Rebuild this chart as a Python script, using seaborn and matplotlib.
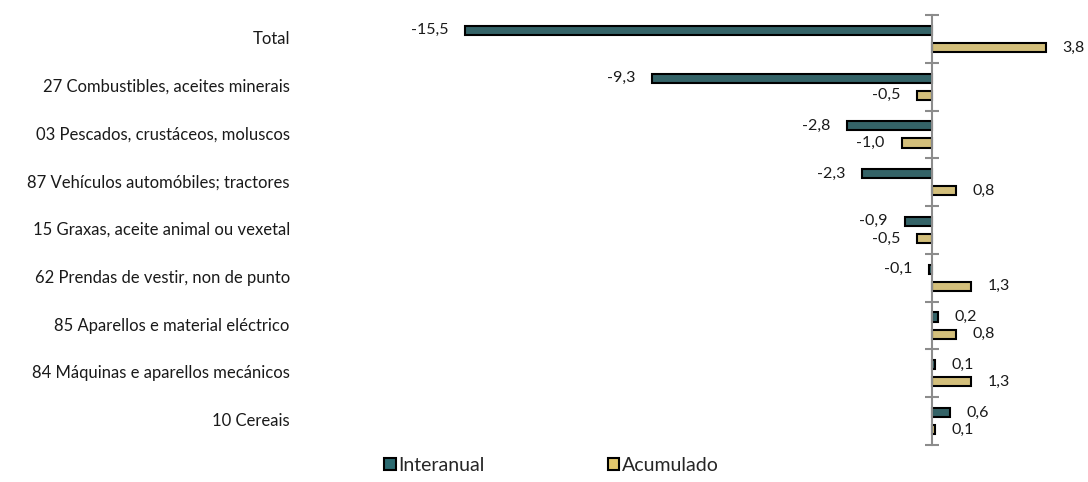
import matplotlib

matplotlib.use("Agg")
import matplotlib.pyplot as plt
import pandas as pd
import seaborn as sns
from matplotlib.patches import Patch

categorias = [
    "Total",
    "27 Combustibles, aceites minerais",
    "03 Pescados, crustáceos, moluscos",
    "87 Vehículos automóbiles; tractores",
    "15 Graxas, aceite animal ou vexetal",
    "62 Prendas de vestir, non de punto",
    "85 Aparellos e material eléctrico",
    "84 Máquinas e aparellos mecánicos",
    "10 Cereais",
]
interanual = [-15.5, -9.3, -2.8, -2.3, -0.9, -0.1, 0.2, 0.1, 0.6]
acumulado = [3.8, -0.5, -1.0, 0.8, -0.5, 1.3, 0.8, 1.3, 0.1]
series = ["Interanual", "Acumulado"]

teal = "#2b6a70"
gold = "#e2c76c"

df = pd.concat(
    [
        pd.DataFrame({"categoria": categorias, "valor": interanual, "serie": series[0]}),
        pd.DataFrame({"categoria": categorias, "valor": acumulado, "serie": series[1]}),
    ],
    ignore_index=True,
)

sns.set_style("white")
plt.rcParams["font.family"] = ["Lato", "DejaVu Sans"]

fig = plt.figure(figsize=(10.88, 4.82), dpi=100)
ax = fig.add_axes([300 / 1088, 1 - 445 / 482, 782 / 1088, 430 / 482])

sns.barplot(
    data=df, x="valor", y="categoria", hue="serie", orient="h",
    palette=[teal, gold], width=0.72, gap=0.47,
    edgecolor="black", linewidth=1.5, legend=False, ax=ax,
)

ax.set_xlim(-21, 5)
ax.set_ylim(len(categorias) - 0.5, -0.5)
for s in ["top", "right", "bottom"]:
    ax.spines[s].set_visible(False)
ax.spines["left"].set_position(("data", 0))
ax.spines["left"].set_color("#8c8c8c")
ax.spines["left"].set_linewidth(1.5)
ax.set_xticks([])
ax.set_yticks([i - 0.5 for i in range(len(categorias) + 1)])
ax.set_yticklabels([])
ax.tick_params(axis="y", direction="inout", length=10, width=1.5, color="#8c8c8c", left=True)
ax.set_xlabel("")
ax.set_ylabel("")

# category labels at the left of the plot area
for i, cat in enumerate(categorias):
    ax.text(-0.013, i, cat, transform=ax.get_yaxis_transform(),
            ha="right", va="center", fontsize=12, color="#1a1a1a")

for cont, vals in zip(ax.containers, [interanual, acumulado]):
    texts = ax.bar_label(cont, labels=[f"{v:.1f}".replace(".", ",") for v in vals],
                         padding=12, fontsize=11.5, color="#1a1a1a")
    for t in texts:
        t.set_y(t.get_position()[1] + 0.03)

handles = [Patch(facecolor=c, edgecolor="black", linewidth=1.5) for c in [teal, gold]]
fig.legend(handles, series, loc="center", bbox_to_anchor=(0.507, 0.035), ncol=2,
           frameon=False, fontsize=14, handlelength=0.6, handleheight=0.6,
           handletextpad=0.15, columnspacing=6.3)

fig.savefig("out.png", dpi=100)
